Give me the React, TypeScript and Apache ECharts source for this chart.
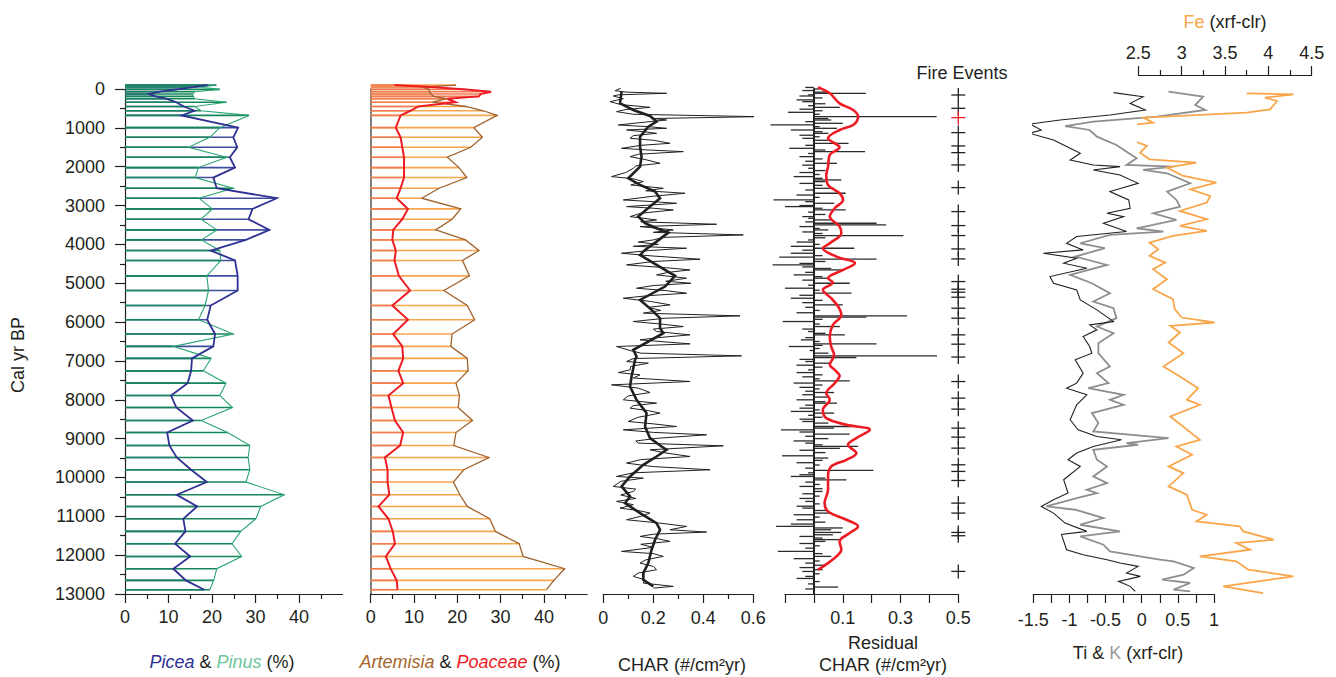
import React, { useEffect, useRef } from 'react';
import * as echarts from 'echarts';

// ---------- DATA ----------
const pollenAges = [-100, -50, 10, 70, 130, 190, 250, 340, 450, 560, 680,
  995, 1243, 1500, 1757, 2023, 2280, 2555, 2812, 3087, 3352, 3627, 3884, 4158, 4415, 4810, 5187, 5573, 5941, 6308, 6626, 6935,
  7255, 7572, 7890, 8199, 8534, 8843, 9177, 9486, 9802, 10118, 10445, 10746, 11063, 11389, 11706, 12033, 12349, 12650, 12889];
const picea = [19, 15.6, 12, 8, 5.6, 7, 9.5, 11.8, 13.5, 16, 13,
  26, 24.9, 25.8, 24.1, 25.3, 20.3, 21.1, 34.9, 29.3, 28.4, 33.2, 27.8, 19.7, 25.3, 25.9, 25.9, 19.7, 18.9, 20.7, 20.3, 15.4,
  15.2, 14.4, 10.6, 11.8, 15.6, 9.7, 10.2, 11.9, 15.2, 18.8, 11.9, 16.6, 13.4, 13.9, 11.5, 15.0, 11.1, 14.0, 18.2];
const pinus = [21, 17, 21.8, 16, 15.5, 15.7, 16, 23.3, 16, 17.5, 28.5,
  21.8, 19.5, 14.6, 23.4, 16.9, 16.1, 24.9, 17.0, 20.1, 17.5, 21.1, 17.6, 21.8, 22.0, 18.8, 19.2, 18.4, 16.9, 24.9, 11.1, 19.8,
  18.0, 23.2, 21.8, 24.7, 17.5, 23.6, 28.7, 28.3, 28.7, 27.8, 36.6, 31.2, 30.1, 26.6, 24.6, 26.8, 21.1, 20.4, 19.5];
const artemisia = [19.7, 12, 13.5, 13.5, 14, 14.5, 17.5, 14.3, 22, 26, 29.2,
  23.8, 25.8, 23.1, 17.7, 20.4, 22.2, 15.8, 11.8, 20.8, 18.8, 15.0, 21.9, 25.0, 21.2, 22.8, 16.9, 22.3, 24.0, 18.8, 18.5, 22.3,
  22.5, 19.7, 20.5, 20.2, 23.5, 19.7, 19.2, 27.3, 21.5, 19.1, 20.6, 22.3, 27.5, 28.8, 34.3, 35.2, 44.8, 42.3, 40.6];
const poaceae = [5.5, 14, 22, 27.8, 25.4, 25, 17.7, 19.6, 11, 9.2, 6.9,
  5.8, 6.9, 7.3, 7.7, 7.7, 7.7, 6.9, 6.0, 8.6, 7.3, 5.2, 5.0, 5.8, 5.5, 6.5, 9.1, 5.0, 8.6, 5.2, 7.3, 7.5,
  6.4, 7.5, 4.1, 4.8, 5.6, 7.5, 6.8, 3.3, 3.9, 3.9, 4.3, 1.8, 4.1, 5.1, 5.6, 3.5, 4.6, 6.0, 6.2];

// CHAR raw [age, value]
const charRaw = [[-20, 0.07], [43, 0.047], [80, 0.09], [111, 0.253], [150, 0.06], [180, 0.04], [250, 0.08], [326, 0.027], [400, 0.07], [472, 0.187], [530, 0.09], [583, 0.053], [650, 0.12], [712, 0.613], [760, 0.2], [798, 0.253], [850, 0.17], [926, 0.06], [970, 0.18], [1012, 0.253], [1055, 0.093], [1100, 0.16], [1141, 0.213], [1200, 0.12], [1269, 0.107], [1320, 0.2], [1398, 0.267], [1450, 0.15], [1527, 0.073], [1570, 0.18], [1612, 0.32], [1680, 0.14], [1741, 0.107], [1820, 0.17], [1913, 0.227], [1980, 0.13], [2041, 0.12], [2150, 0.09], [2255, 0.033], [2310, 0.12], [2384, 0.16], [2470, 0.11], [2556, 0.24], [2620, 0.17], [2684, 0.327], [2760, 0.2], [2856, 0.08], [2900, 0.2], [2942, 0.293], [3027, 0.093], [3070, 0.2], [3113, 0.28], [3200, 0.15], [3285, 0.107], [3370, 0.213], [3420, 0.15], [3482, 0.453], [3542, 0.147], [3628, 0.28], [3690, 0.2], [3756, 0.56], [3820, 0.24], [3885, 0.2], [3940, 0.14], [4000, 0.22], [4050, 0.12], [4099, 0.333], [4160, 0.18], [4228, 0.073], [4300, 0.2], [4382, 0.387], [4440, 0.2], [4528, 0.093], [4600, 0.25], [4657, 0.347], [4720, 0.26], [4785, 0.213], [4871, 0.333], [4950, 0.25], [5000, 0.35], [5060, 0.2], [5128, 0.133], [5190, 0.25], [5257, 0.333], [5320, 0.18], [5386, 0.08], [5470, 0.19], [5557, 0.267], [5620, 0.18], [5700, 0.23], [5770, 0.16], [5840, 0.547], [5900, 0.25], [5986, 0.12], [6050, 0.23], [6115, 0.32], [6180, 0.2], [6243, 0.213], [6329, 0.347], [6400, 0.22], [6458, 0.147], [6561, 0.347], [6629, 0.053], [6732, 0.107], [6800, 0.15], [6869, 0.553], [6940, 0.12], [7015, 0.093], [7058, 0.18], [7140, 0.11], [7230, 0.107], [7300, 0.06], [7358, 0.147], [7440, 0.12], [7530, 0.347], [7616, 0.033], [7700, 0.14], [7813, 0.187], [7900, 0.1], [8001, 0.08], [8087, 0.213], [8150, 0.12], [8216, 0.107], [8280, 0.18], [8344, 0.227], [8450, 0.14], [8559, 0.1], [8620, 0.2], [8688, 0.293], [8773, 0.08], [8840, 0.2], [8902, 0.413], [8990, 0.22], [9060, 0.13], [9116, 0.14], [9185, 0.48], [9288, 0.187], [9370, 0.25], [9460, 0.347], [9540, 0.15], [9631, 0.093], [9720, 0.2], [9802, 0.427], [9880, 0.12], [9974, 0.053], [10017, 0.16], [10100, 0.07], [10231, 0.04], [10300, 0.13], [10360, 0.12], [10450, 0.07], [10540, 0.13], [10617, 0.053], [10700, 0.12], [10789, 0.067], [10850, 0.14], [10917, 0.187], [11000, 0.15], [11089, 0.093], [11170, 0.22], [11260, 0.333], [11346, 0.267], [11406, 0.413], [11460, 0.2], [11518, 0.147], [11580, 0.22], [11646, 0.267], [11720, 0.15], [11800, 0.2], [11904, 0.073], [11960, 0.2], [12032, 0.24], [12120, 0.17], [12204, 0.147], [12290, 0.2], [12375, 0.213], [12460, 0.14], [12547, 0.12], [12633, 0.167], [12720, 0.16], [12804, 0.28], [12847, 0.2]];

// CHAR background (smoothed) [age, value]
const charSmooth = [[69, 0.073], [369, 0.067], [540, 0.12], [695, 0.187], [840, 0.213], [969, 0.18], [1226, 0.147], [1484, 0.147], [1741, 0.153], [1998, 0.147], [2298, 0.1], [2470, 0.147], [2641, 0.207], [2813, 0.227], [3027, 0.187], [3285, 0.14], [3456, 0.167], [3585, 0.213], [3696, 0.26], [3928, 0.213], [4142, 0.167], [4271, 0.147], [4528, 0.213], [4811, 0.287], [5086, 0.247], [5429, 0.147], [5686, 0.193], [5900, 0.227], [6157, 0.227], [6286, 0.24], [6501, 0.18], [6715, 0.12], [6886, 0.133], [6972, 0.127], [7401, 0.113], [7658, 0.107], [8001, 0.133], [8344, 0.173], [8688, 0.167], [8988, 0.187], [9202, 0.233], [9288, 0.253], [9460, 0.213], [9674, 0.16], [9974, 0.107], [10231, 0.073], [10488, 0.107], [10660, 0.087], [10917, 0.147], [11175, 0.213], [11346, 0.227], [11603, 0.207], [11861, 0.193], [12204, 0.18], [12461, 0.16], [12633, 0.16], [12804, 0.2]];

// Residual CHAR [age, value]
const residual = [[-40, -0.03], [0, 0.02], [40, -0.04], [80, 0.05], [111, 0.18], [150, -0.02], [180, -0.05], [230, 0.03], [280, -0.06], [326, -0.04], [380, 0.04], [430, -0.02], [472, 0.09], [520, -0.05], [560, 0.03], [600, -0.09], [650, 0.02], [712, 0.425], [760, 0.05], [798, 0.06], [840, -0.03], [883, 0.1], [926, -0.15], [970, 0.02], [1012, 0.08], [1055, -0.08], [1100, 0.03], [1141, 0.05], [1190, -0.05], [1230, 0.02], [1269, -0.04], [1320, 0.06], [1398, 0.12], [1450, -0.03], [1527, -0.085], [1570, 0.04], [1612, 0.177], [1660, -0.02], [1741, -0.05], [1800, 0.03], [1860, -0.03], [1913, 0.08], [1960, -0.04], [2041, -0.02], [2100, 0.04], [2150, -0.05], [2200, 0.02], [2255, -0.07], [2300, 0.03], [2341, 0.095], [2384, 0.04], [2430, -0.05], [2480, 0.03], [2556, 0.07], [2600, -0.03], [2684, 0.11], [2730, -0.06], [2790, 0.02], [2856, -0.14], [2900, -0.03], [2942, 0.07], [3000, -0.05], [3027, -0.1], [3070, 0.03], [3113, 0.11], [3170, -0.02], [3230, 0.04], [3285, -0.04], [3330, -0.02], [3370, 0.06], [3420, -0.03], [3456, 0.217], [3499, 0.25], [3542, -0.05], [3590, 0.02], [3628, 0.05], [3680, -0.04], [3720, 0.03], [3774, 0.31], [3830, 0.04], [3885, -0.02], [3940, -0.06], [4000, 0.02], [4050, -0.08], [4099, 0.14], [4150, -0.04], [4228, -0.08], [4290, 0.03], [4330, -0.12], [4382, 0.217], [4440, 0.04], [4490, -0.05], [4528, -0.143], [4580, -0.04], [4620, 0.06], [4657, 0.1], [4720, -0.03], [4785, -0.07], [4830, 0.03], [4871, 0.05], [4920, -0.04], [5000, 0.124], [5050, -0.02], [5128, -0.1], [5180, 0.02], [5257, 0.13], [5310, -0.05], [5386, -0.08], [5440, 0.03], [5500, -0.04], [5557, 0.1], [5620, -0.03], [5700, 0.02], [5760, -0.06], [5840, 0.322], [5874, 0.182], [5930, 0.03], [5986, -0.108], [6050, 0.02], [6115, 0.09], [6180, -0.04], [6243, -0.02], [6290, 0.04], [6329, 0.107], [6400, -0.03], [6458, -0.045], [6500, 0.02], [6561, 0.217], [6600, 0.03], [6629, -0.087], [6680, 0.02], [6732, -0.015], [6800, 0.05], [6869, 0.426], [6912, 0.147], [6960, -0.05], [7015, -0.03], [7058, 0.055], [7110, -0.06], [7160, 0.03], [7230, -0.02], [7300, -0.06], [7358, 0.03], [7410, -0.04], [7460, 0.02], [7513, 0.124], [7570, -0.07], [7620, 0.03], [7680, -0.05], [7720, 0.02], [7780, -0.03], [7813, 0.07], [7870, -0.04], [7930, 0.05], [8001, -0.06], [8050, 0.04], [8087, 0.08], [8140, -0.03], [8216, -0.05], [8260, 0.02], [8300, -0.08], [8344, 0.07], [8400, -0.02], [8450, 0.03], [8500, -0.05], [8559, -0.04], [8600, 0.05], [8688, 0.136], [8730, 0.07], [8773, -0.114], [8830, -0.05], [8885, 0.124], [8940, -0.03], [9000, 0.05], [9060, -0.07], [9116, -0.03], [9160, 0.03], [9202, 0.153], [9250, 0.09], [9300, -0.05], [9360, 0.04], [9442, -0.11], [9500, 0.05], [9560, 0.03], [9620, -0.06], [9680, 0.02], [9760, -0.03], [9820, 0.206], [9880, -0.02], [9930, -0.05], [9974, -0.08], [10017, 0.04], [10060, 0.113], [10120, -0.03], [10180, 0.02], [10231, -0.05], [10290, 0.03], [10360, 0.03], [10420, -0.04], [10480, 0.02], [10540, -0.05], [10617, -0.03], [10680, 0.02], [10740, -0.06], [10789, -0.04], [10850, 0.05], [10917, 0.06], [10960, -0.07], [11020, 0.02], [11089, -0.06], [11150, 0.04], [11200, -0.08], [11260, -0.131], [11300, 0.1], [11346, 0.06], [11415, 0.095], [11475, 0.066], [11518, -0.05], [11560, 0.03], [11600, 0.09], [11646, 0.04], [11700, -0.05], [11760, 0.02], [11820, -0.03], [11904, -0.125], [11960, 0.03], [12032, 0.06], [12090, -0.07], [12150, 0.02], [12204, -0.03], [12260, 0.04], [12320, -0.05], [12375, 0.03], [12420, -0.04], [12480, 0.02], [12547, -0.03], [12600, -0.06], [12680, 0.02], [12740, -0.02], [12821, 0.084], [12870, -0.03]];

// Smoothed residual (red) [age, value]
const residualSmooth = [[-43, 0.014], [111, 0.055], [369, 0.089], [540, 0.136], [712, 0.153], [926, 0.136], [1055, 0.089], [1269, 0.049], [1501, 0.089], [1698, 0.055], [1998, 0.049], [2213, 0.043], [2470, 0.049], [2684, 0.089], [2856, 0.101], [3070, 0.072], [3285, 0.055], [3542, 0.089], [3713, 0.095], [3971, 0.055], [4099, 0.031], [4314, 0.078], [4485, 0.142], [4657, 0.101], [4871, 0.049], [4983, 0.066], [5171, 0.031], [5386, 0.06], [5600, 0.084], [5815, 0.095], [6072, 0.066], [6372, 0.055], [6629, 0.06], [6850, 0.07], [7101, 0.055], [7230, 0.072], [7384, 0.089], [7573, 0.072], [7830, 0.043], [8001, 0.055], [8259, 0.031], [8473, 0.043], [8645, 0.113], [8773, 0.194], [8988, 0.147], [9159, 0.118], [9374, 0.147], [9545, 0.113], [9716, 0.06], [9974, 0.049], [10317, 0.049], [10660, 0.037], [10874, 0.049], [11089, 0.113], [11260, 0.153], [11432, 0.124], [11646, 0.089], [11861, 0.095], [12032, 0.078], [12204, 0.049], [12375, 0.014]];

// Fire events (ages); the highlighted one is drawn in red
const fireEvents = [154, 497, 1123, 1466, 1638, 1955, 2538, 3156, 3516, 3773, 4117, 4374, 4957, 5154, 5231, 5360, 5643, 5900, 6329, 6569, 6900, 7530, 7958, 8241, 8730, 8962, 9245, 9674, 9845, 10077, 10660, 10917, 11415, 11500, 12418];
const fireEventsRed = [737];

// XRF [age, value]
const ti = [[94, -0.39], [198, 0.02], [370, -0.16], [541, 0.05], [670, -0.44], [798, -1.13], [901, -1.55], [1055, -1.39], [1141, -1.55], [1312, -1.22], [1527, -0.99], [1655, -0.85], [1827, -0.99], [1956, -0.67], [1998, -0.3], [2084, -0.67], [2213, -0.3], [2427, -0.05], [2641, -0.44], [2856, -0.18], [3070, -0.16], [3199, -0.48], [3285, -0.25], [3456, -0.53], [3670, -0.21], [3799, -0.9], [3971, -1.04], [4142, -0.81], [4228, -1.36], [4357, -0.9], [4485, -1.08], [4614, -0.76], [4828, -1.27], [5000, -1.22], [5171, -0.9], [5429, -0.85], [5686, -0.62], [5986, -0.39], [6072, -0.72], [6200, -0.62], [6372, -0.81], [6629, -0.72], [6800, -0.69], [6972, -0.92], [7315, -0.81], [7572, -0.9], [7701, -1.04], [7872, -0.76], [8129, -0.9], [8515, -0.99], [8773, -0.88], [8945, -0.62], [9030, -0.28], [9201, -0.67], [9373, -0.9], [9545, -1.02], [9716, -0.85], [10060, -1.08], [10402, -1.02], [10573, -1.22], [10745, -1.39], [10917, -1.22], [11174, -1.06], [11388, -0.76], [11470, -1.11], [11860, -1.04], [11989, -0.81], [12117, -0.48], [12203, -0.3], [12289, -0.05], [12460, -0.21], [12546, -0.02], [12675, -0.32], [12803, -0.16], [12932, -0.09]];
const k = [[69, 0.37], [198, 0.85], [413, 0.74], [541, 0.88], [713, 0.21], [841, -0.67], [953, -1.06], [1055, -0.72], [1227, -0.62], [1441, -0.35], [1613, -0.21], [1784, -0.07], [1956, -0.21], [1998, 0.44], [2084, 0.02], [2170, 0.35], [2427, 0.67], [2641, 0.35], [2856, 0.48], [3027, 0.53], [3199, 0.16], [3370, 0.48], [3585, -0.07], [3670, 0.3], [3756, -0.44], [3971, -0.85], [4099, -0.51], [4314, -0.92], [4528, -0.48], [4785, -0.99], [5000, -0.69], [5257, -0.44], [5471, -0.67], [5643, -0.39], [5900, -0.35], [6115, -0.62], [6286, -0.39], [6543, -0.6], [6800, -0.6], [7143, -0.44], [7315, -0.62], [7572, -0.46], [7701, -0.74], [7872, -0.25], [8001, -0.44], [8129, -0.25], [8343, -0.69], [8601, -0.6], [8816, -0.67], [8987, 0.37], [9116, -0.21], [9158, -0.05], [9287, -0.67], [9545, -0.62], [9716, -0.48], [9973, -0.67], [10145, -0.48], [10316, -0.76], [10402, -0.62], [10530, -0.9], [10745, -1.32], [10831, -0.92], [11045, -0.53], [11217, -0.85], [11388, -0.3], [11517, -0.85], [11731, -0.53], [11903, -0.44], [12117, 0.25], [12160, 0.44], [12331, 0.72], [12503, 0.58], [12632, 0.28], [12717, 0.67], [12889, 0.44], [12932, 0.67]];
const fe = [[111, 3.75], [137, 4.29], [223, 3.96], [309, 4.1], [523, 4.02], [609, 3.75], [738, 2.56], [866, 2.67], [952, 2.33], [1166, 2.17], [1295, 2.4], [1466, 2.6], [1638, 2.52], [1810, 2.63], [1896, 3.17], [2024, 2.83], [2238, 3.02], [2410, 3.4], [2581, 3.1], [2753, 3.33], [2924, 3.29], [3139, 2.98], [3353, 3.29], [3525, 2.98], [3653, 3.29], [3782, 2.9], [3953, 2.63], [4125, 2.73], [4296, 2.63], [4468, 2.81], [4639, 2.67], [4896, 2.83], [5154, 2.67], [5411, 2.9], [5668, 2.92], [5883, 3.0], [6011, 3.38], [6097, 2.87], [6268, 2.98], [6526, 2.85], [6800, 3.02], [7143, 2.79], [7400, 2.98], [7701, 3.19], [8001, 3.06], [8129, 3.21], [8429, 2.87], [9030, 3.21], [9201, 2.94], [9416, 3.12], [9716, 2.85], [9888, 3.02], [10230, 2.85], [10445, 3.06], [10831, 3.12], [10959, 3.29], [11131, 3.17], [11260, 3.67], [11388, 3.71], [11603, 4.06], [11688, 3.63], [11860, 3.79], [12031, 3.21], [12160, 3.63], [12374, 3.77], [12546, 4.29], [12803, 3.48], [12975, 3.94]];

// tick labels
const ageTicks = [0, 13000];
const pctLabels = [0, 10, 20, 30, 40];
const pctMinor = [5, 15, 25, 35, 45];
const charLabels = [0, 0.2, 0.4, 0.6];
const charMinor = [0.1, 0.3, 0.5];
const resTicks = [-0.1, 0, 0.1, 0.2, 0.3, 0.4, 0.5];
const resLabels = [0.1, 0.3, 0.5];
const tikTicks = [-1.5, -1.25, -1, -0.75, -0.5, -0.25, 0, 0.25, 0.5, 0.75, 1];
const tikLabels = [-1.5, -1, -0.5, 0, 0.5, 1];
const feLabels = [2.5, 3, 3.5, 4, 4.5];
const feMinor = [2.75, 3.25, 3.75, 4.25];

// ---------- STYLE ----------
const DARK = '#231f20';
const FONT = 'Liberation Sans, Arial, sans-serif';

const GTOP = 89;
const GH = 505;

const flip = (pairs: number[][]) => pairs.map((p) => [p[1], p[0]]);
const zipAge = (vals: number[]) => vals.map((v, i) => [v, pollenAges[i]]);
const plain = (v: number) => String(v);

const barRender = (color: string, width: number) => (params: any, api: any) => {
  const age = api.value(1);
  const v = api.value(0);
  const p0 = api.coord([0, age]);
  const p1 = api.coord([v, age]);
  return { type: 'line', shape: { x1: p0[0], y1: p0[1], x2: p1[0], y2: p1[1] }, style: { stroke: color, lineWidth: width }, silent: true };
};

const crossRender = (color: string) => (params: any, api: any) => {
  const p = api.coord([api.value(0), api.value(1)]);
  const h = 7;
  return {
    type: 'group',
    children: [
      { type: 'line', shape: { x1: p[0] - h, y1: p[1], x2: p[0] + h, y2: p[1] }, style: { stroke: color, lineWidth: 1.3 } },
      { type: 'line', shape: { x1: p[0], y1: p[1] - h, x2: p[0], y2: p[1] + h }, style: { stroke: color, lineWidth: 1.3 } },
    ],
  };
};

const labelStyle = (values: number[], margin: number) => ({
  show: true, customValues: values, fontSize: 18, color: DARK, fontFamily: FONT, margin, formatter: plain,
});

function mainX(grid: number, min: number, max: number, ticks: number[], labels: number[], len: number, margin: number, extra: any = {}) {
  return {
    type: 'value', gridIndex: grid, min, max, position: 'bottom',
    axisLine: { show: true, onZero: false, lineStyle: { color: DARK, width: 1.2 } },
    axisTick: { show: true, customValues: ticks, length: len, lineStyle: { color: DARK, width: 1.2 } },
    axisLabel: labelStyle(labels, margin),
    splitLine: { show: false },
    ...extra,
  };
}
function minorX(grid: number, min: number, max: number, ticks: number[], len: number, extra: any = {}) {
  return {
    type: 'value', gridIndex: grid, min, max, position: 'bottom',
    axisLine: { show: false, onZero: false },
    axisTick: { show: true, customValues: ticks, length: len, lineStyle: { color: DARK, width: 1.2 } },
    axisLabel: { show: false },
    splitLine: { show: false },
    ...extra,
  };
}
function hiddenY(grid: number, extra: any = {}) {
  return {
    type: 'value', gridIndex: grid, min: ageTicks[0], max: ageTicks[1], inverse: true,
    axisLine: { show: false }, axisTick: { show: false }, axisLabel: { show: false }, splitLine: { show: false },
    ...extra,
  };
}

export default function App() {
  const ref = useRef<HTMLDivElement>(null);
  useEffect(() => {
    if (!ref.current) return;
    const chart = echarts.init(ref.current, undefined, { renderer: 'svg' });

    const grids = [
      { left: 125, top: GTOP, width: 217.5, height: GH },
      { left: 370.7, top: GTOP, width: 216.5, height: GH },
      { left: 603.3, top: GTOP, width: 150, height: GH },
      { left: 785, top: GTOP, width: 173.3, height: GH },
      { left: 1033.3, top: GTOP, width: 180.7, height: GH },
      { left: 1138.3, top: GTOP, width: 173.4, height: GH },
    ];

    const xAxes = [
      mainX(0, 0, 50, pctLabels, pctLabels, 9, 14),          // 0
      minorX(0, 0, 50, pctMinor, 5),                          // 1
      mainX(1, 0, 50, pctLabels, pctLabels, 9, 14),           // 2
      minorX(1, 0, 50, pctMinor, 5),                          // 3
      mainX(2, 0, 0.6, charLabels, charLabels, 9, 15),        // 4
      minorX(2, 0, 0.6, charMinor, 5),                        // 5
      mainX(3, -0.1, 0.5, resTicks, resLabels, 9, 15),        // 6
      mainX(4, -1.5, 1, tikTicks, tikLabels, 9, 17),          // 7
      mainX(5, 2.5, 4.5, feLabels, feLabels, 9, 13, { position: 'top', offset: 14 }), // 8
      minorX(5, 2.5, 4.5, feMinor, 5, { position: 'top', offset: 14 }),              // 9
    ];

    const yAxes = [
      {
        type: 'value', gridIndex: 0, min: ageTicks[0], max: ageTicks[1], interval: 1000, inverse: true,
        axisLine: { show: true, onZero: false, lineStyle: { color: DARK, width: 1.2 } },
        axisTick: { show: true, length: 10, lineStyle: { color: DARK, width: 1.2 } },
        minorTick: { show: true, splitNumber: 2, length: 5, lineStyle: { color: DARK, width: 1.2 } },
        axisLabel: { fontSize: 18, color: DARK, fontFamily: FONT, margin: 20, formatter: plain },
        splitLine: { show: false }, minorSplitLine: { show: false },
      },
      hiddenY(1, { axisLine: { show: true, onZero: false, lineStyle: { color: '#555', width: 1.5 } } }),
      hiddenY(2),
      hiddenY(3, { axisLine: { show: true, onZero: true, lineStyle: { color: DARK, width: 2 } } }),
      hiddenY(4),
      hiddenY(5),
    ];

    const line = (xi: number, yi: number, data: number[][], color: string, width: number, z = 3, smooth: any = false) => ({
      type: 'line', xAxisIndex: xi, yAxisIndex: yi, data, symbol: 'none', showSymbol: false, clip: false, silent: true, z, smooth,
      lineStyle: { color, width, join: 'miter' }, animation: false,
    });
    const bars = (xi: number, yi: number, data: number[][], color: string, width: number, z = 2) => ({
      type: 'custom', xAxisIndex: xi, yAxisIndex: yi, data, renderItem: barRender(color, width), encode: { x: 0, y: 1 }, clip: false, silent: true, z,
    });

    const series: any[] = [
      // Panel 1
      bars(0, 0, zipAge(picea), '#3d4f9f', 1.6, 2),
      bars(0, 0, zipAge(pinus), '#14875a', 1.6, 2),
      line(0, 0, zipAge(pinus), '#2aa472', 1.1, 4),
      line(0, 0, zipAge(picea), '#2e3192', 1.8, 5),
      // Panel 2
      bars(2, 1, zipAge(artemisia), '#f8a54e', 1.6, 2),
      bars(2, 1, zipAge(poaceae), '#f27b52', 1.6, 2),
      line(2, 1, zipAge(artemisia), '#a0612b', 1.3, 4),
      line(2, 1, zipAge(poaceae), '#ed1c24', 2, 5),
      // Panel 3
      line(4, 2, flip(charRaw), DARK, 1, 3),
      line(4, 2, flip(charSmooth), DARK, 2.6, 4),
      // Panel 4
      bars(6, 3, flip(residual), '#2b2b2b', 1.3, 2),
      line(6, 3, flip(residualSmooth), '#ed1c24', 2.6, 5, 0.35),
      {
        type: 'custom', xAxisIndex: 6, yAxisIndex: 3, data: fireEvents.map((a) => [0.5, a]),
        renderItem: crossRender(DARK), encode: { x: 0, y: 1 }, clip: false, silent: true, z: 5,
      },
      {
        type: 'custom', xAxisIndex: 6, yAxisIndex: 3, data: fireEventsRed.map((a) => [0.5, a]),
        renderItem: crossRender('#ed1c24'), encode: { x: 0, y: 1 }, clip: false, silent: true, z: 6,
      },
      // Panel 5
      line(7, 4, flip(k), '#8e8e8e', 1.8, 3),
      line(7, 4, flip(ti), DARK, 1.1, 4),
      line(8, 5, flip(fe), '#f9a54a', 1.8, 3),
    ];

    const txt = (x: number, y: number, text: string, rich: any = {}, extra: any = {}) => ({
      type: 'text', x, y, silent: true,
      style: {
        text, rich, fill: DARK, font: `18px ${FONT}`, fontSize: 18, fontFamily: FONT,
        align: 'center', verticalAlign: 'middle', textAlign: 'center', textVerticalAlign: 'middle',
      },
      ...extra,
    });
    const it = (c: string) => ({ fill: c, color: c, fontStyle: 'italic', fontSize: 18, fontFamily: FONT });
    const pl = (c: string) => ({ fill: c, color: c, fontSize: 18, fontFamily: FONT });

    const graphic = [
      txt(18, 355, 'Cal yr BP', {}, { rotation: Math.PI / 2 }),
      txt(222, 662, '{a|Picea}{d| & }{b|Pinus}{d| (%)}', { a: it('#2e3192'), b: it('#6cc59b'), d: pl(DARK) }),
      txt(460, 662, '{a|Artemisia}{d| & }{b|Poaceae}{d| (%)}', { a: it('#a5652c'), b: it('#ed1c24'), d: pl(DARK) }),
      txt(682, 665, 'CHAR (#/cm²yr)'),
      txt(883, 643, 'Residual'),
      txt(883, 665, 'CHAR (#/cm²yr)'),
      txt(1128, 653, '{d|Ti & }{k|K}{d| (xrf-clr)}', { k: pl('#9a9a9a'), d: pl(DARK) }),
      txt(1225, 22, '{f|Fe}{d| (xrf-clr)}', { f: pl('#f9a54a'), d: pl(DARK) }),
      txt(962, 73, 'Fire Events'),
    ];

    chart.setOption({
      animation: false,
      backgroundColor: '#ffffff',
      textStyle: { fontFamily: FONT },
      grid: grids,
      xAxis: xAxes,
      yAxis: yAxes,
      series,
      graphic,
    });
    return () => chart.dispose();
  }, []);

  return <div ref={ref} style={{ position: 'fixed', left: 0, top: 0, width: 1336, height: 677, background: '#fff' }} />;
}
